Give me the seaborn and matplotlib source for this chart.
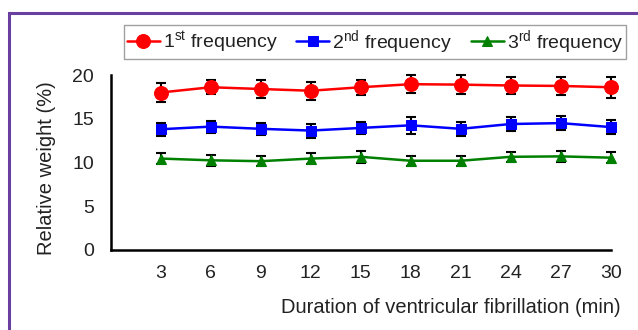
import numpy as np
import pandas as pd
import matplotlib
matplotlib.use("Agg")
import matplotlib.pyplot as plt
import matplotlib.patches as mpatches
import seaborn as sns

# data
minutes = [3, 6, 9, 12, 15, 18, 21, 24, 27, 30]

first_mean = [18.0, 18.6, 18.4, 18.2, 18.6, 18.95, 18.9, 18.8, 18.75, 18.6]
first_err = [1.05, 0.8, 1.0, 1.05, 0.85, 1.0, 1.1, 1.0, 1.05, 1.2]

second_mean = [13.8, 14.1, 13.85, 13.65, 13.95, 14.25, 13.85, 14.4, 14.5, 14.05]
second_err = [0.75, 0.7, 0.7, 0.8, 0.7, 0.95, 0.8, 0.75, 0.8, 0.77]

third_mean = [10.45, 10.25, 10.15, 10.45, 10.65, 10.2, 10.2, 10.65, 10.7, 10.55]
third_err = [0.65, 0.65, 0.6, 0.65, 0.65, 0.6, 0.6, 0.6, 0.65, 0.6]

labels = ["1$^{\\mathrm{st}}$ frequency",
          "2$^{\\mathrm{nd}}$ frequency",
          "3$^{\\mathrm{rd}}$ frequency"]

sns.set_style("white")
plt.rcParams["font.family"] = ["Liberation Sans", "DejaVu Sans"]
plt.rcParams["mathtext.fontset"] = "custom"
plt.rcParams["mathtext.rm"] = "Liberation Sans"
plt.rcParams["mathtext.it"] = "Liberation Sans:italic"
plt.rcParams["mathtext.bf"] = "Liberation Sans:bold"

text_col = "#222222"

fig = plt.figure(figsize=(6.38, 3.30), dpi=100)
ax = fig.add_axes([110.7 / 638, 80 / 330, 500 / 638, 175 / 330])

series = [
    (first_mean, first_err, "#ff0000", "o", 10),
    (second_mean, second_err, "#0000ff", "s", 7),
    (third_mean, third_err, "#008000", "^", 7.5),
]

for (mean, err, col, mk, ms), lab in zip(series, labels):
    df = pd.DataFrame({"min": minutes, "val": mean})
    ax.errorbar(minutes, mean, yerr=err, fmt="none", ecolor="black",
                elinewidth=1.5, capsize=3.5, capthick=1.5, zorder=2,
                clip_on=False)
    sns.lineplot(data=df, x="min", y="val", ax=ax, color=col, marker=mk,
                 markersize=ms, markeredgecolor=col, linewidth=1.8,
                 label=lab, zorder=3, clip_on=False)

ax.set_xlim(0, 30)
ax.set_ylim(0, 20)
ax.set_xticks(minutes)
ax.set_yticks([0, 5, 10, 15, 20])

for s in ["top", "right"]:
    ax.spines[s].set_visible(False)
for s in ["left", "bottom"]:
    ax.spines[s].set_linewidth(1.8)
    ax.spines[s].set_color("black")

ax.tick_params(axis="x", direction="in", length=4, width=1.5, pad=11,
               labelsize=14, colors="black", labelcolor=text_col)
ax.tick_params(axis="y", direction="in", length=4, width=1.5, pad=12,
               labelsize=14, colors="black", labelcolor=text_col)

ax.set_xlabel("Duration of ventricular fibrillation (min)", fontsize=14.5,
              color=text_col, loc="right")
ax.xaxis.set_label_coords((621 - 110.7) / 500, (250 - 298) / 175)
ax.set_ylabel("Relative weight (%)", fontsize=14.5, color=text_col)
ax.yaxis.set_label_coords((56 - 110.7) / 500, (250 - 168.5) / 175)

handles, labs = ax.get_legend_handles_labels()
ax.get_legend().remove()
leg = fig.legend(handles, labs, ncol=3, loc="center",
                 bbox_to_anchor=(375 / 638, 1 - 42 / 330),
                 fontsize=14, frameon=True, fancybox=False,
                 edgecolor="#888888", handlelength=1.7, handletextpad=0.15,
                 columnspacing=0.95, borderpad=0.15, borderaxespad=0)
leg.get_frame().set_linewidth(1.0)
for t in leg.get_texts():
    t.set_color(text_col)

# purple frame around the panel (cropped on right and bottom)
frame = mpatches.Rectangle((9 / 638, -0.2), 1.2, 1.2 - 12.5 / 330,
                           transform=fig.transFigure, fill=False,
                           edgecolor="#6b3fa0", linewidth=2.2, clip_on=False)
fig.patches.append(frame)

fig.savefig("out.png", dpi=100)
